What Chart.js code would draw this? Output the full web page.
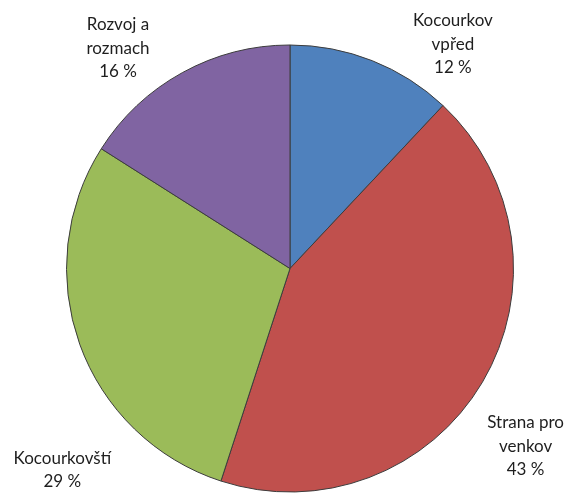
<!DOCTYPE html>
<html>
<head>
<meta charset="utf-8">
<script src="https://cdn.jsdelivr.net/npm/chart.js@4"></script>
<style>
  body { margin: 0; background: #fff; }
  #wrap { width: 571px; height: 493px; }
</style>
</head>
<body>
<div id="wrap"><canvas id="myChart" width="571" height="493"></canvas></div>
<script>
// slices, clockwise from 12 o'clock
var labels = [['Kocourkov', 'vpřed'], ['Strana pro', 'venkov'], ['Kocourkovští'], ['Rozvoj a', 'rozmach']]
var values = [12, 43, 29, 16]
var colors = ['#4F81BD', '#C0504D', '#9BBB59', '#8064A2']

// where the text sits, as angle (deg from top) and distance (x radius) from pie centre
var labelAngle = [36, 127, 228.5, 322]
var labelDist = [1.24, 1.32, 1.36, 1.25]

const labelPlugin = {
  id: 'sliceLabels',
  afterDraw(chart) {
    const ctx = chart.ctx
    const meta = chart.getDatasetMeta(0)
    ctx.save()
    ctx.font = '17px Lato'
    ctx.fillStyle = '#1e1e1e'
    ctx.textAlign = 'center'
    ctx.textBaseline = 'middle'
    meta.data.forEach((arc, i) => {
      const a = labelAngle[i] * Math.PI / 180
      const cx = arc.x + Math.sin(a) * arc.outerRadius * labelDist[i]
      const cy = arc.y - Math.cos(a) * arc.outerRadius * labelDist[i]
      const lines = labels[i].concat([values[i] + ' %'])
      const lh = 23.5
      const y0 = cy - (lines.length - 1) * lh / 2
      lines.forEach((t, j) => ctx.fillText(t, cx, y0 + j * lh))
    })
    ctx.restore()
  }
}

const ctx = document.getElementById('myChart').getContext('2d')
const myChart = new Chart(ctx, {
  type: 'pie',
  data: {
    labels: labels.map(l => l.join(' ')),
    datasets: [{
      data: values,
      backgroundColor: colors,
      borderColor: '#3c3c3c',
      borderWidth: 1
    }]
  },
  options: {
    responsive: false,
    animation: false,
    layout: { padding: { left: 66, right: 57, top: 44, bottom: 0 } },
    plugins: {
      legend: { display: false },
      tooltip: { enabled: false }
    }
  },
  plugins: [labelPlugin]
})
</script>
</body>
</html>
